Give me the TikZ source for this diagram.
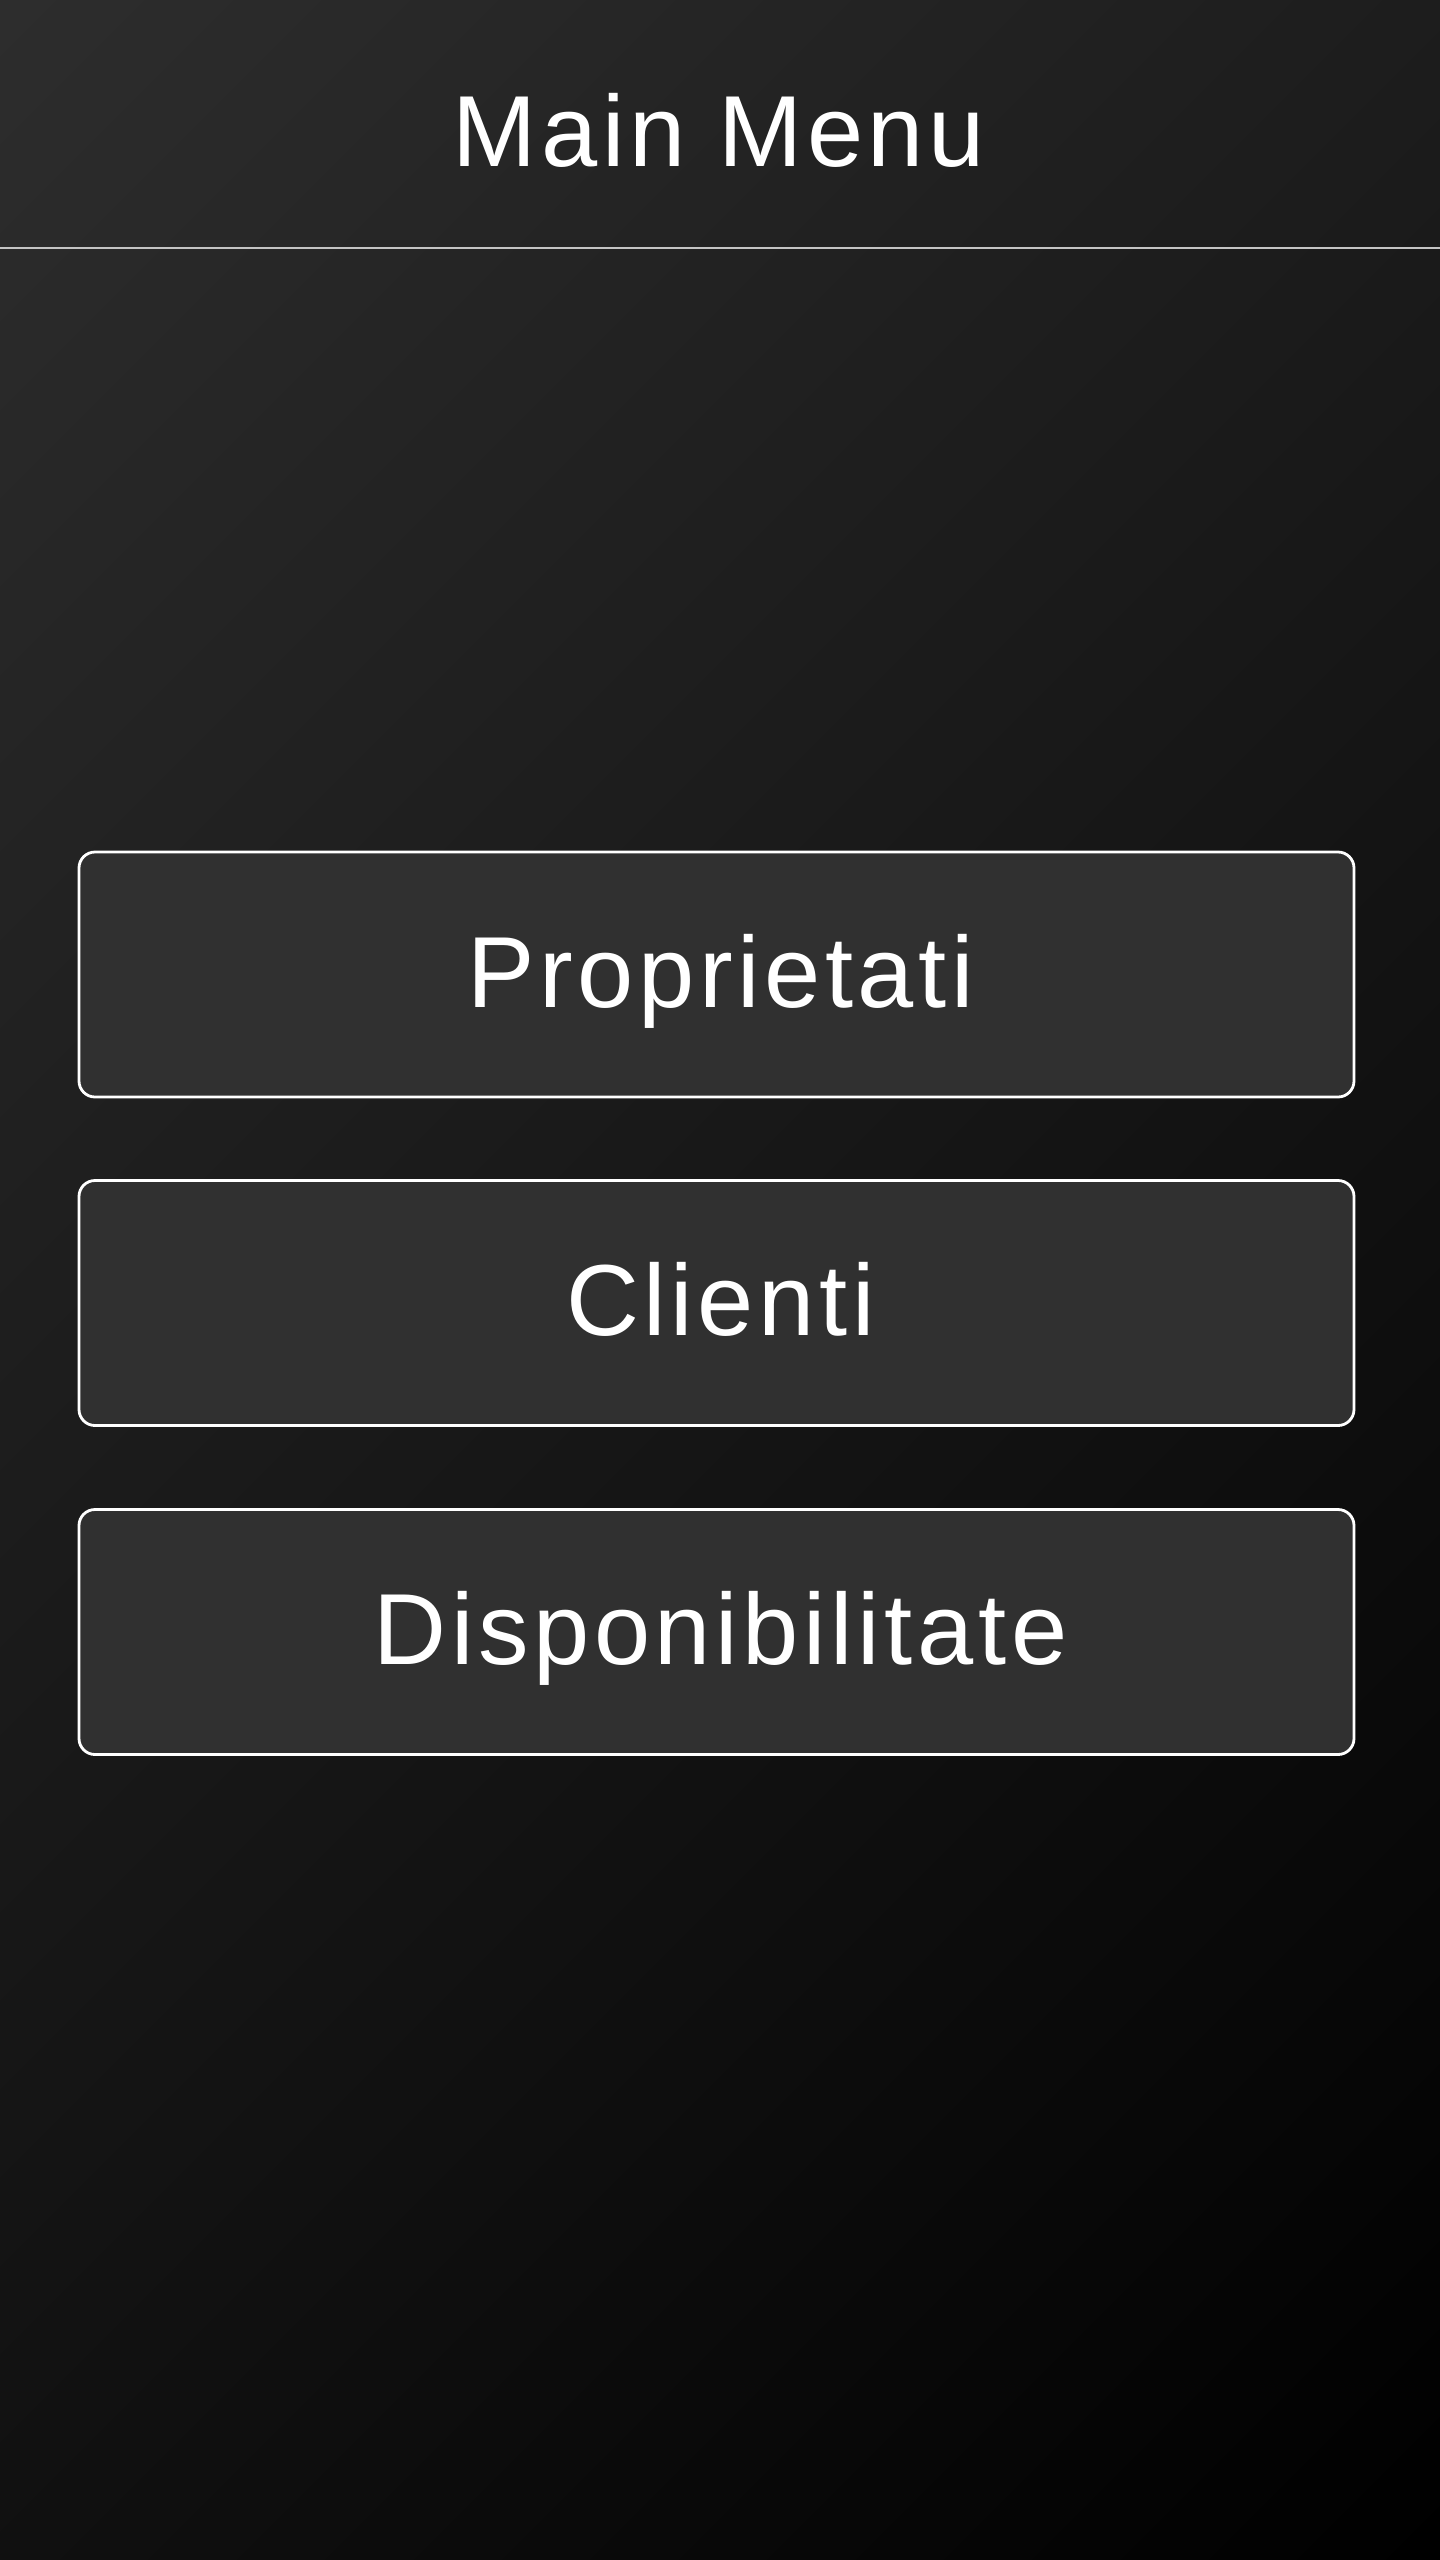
\documentclass[tikz,border=0pt]{standalone}
\usepackage{fontspec}
\setmainfont{Liberation Sans}
\newfontfamily\uifont[LetterSpace=4.6]{Liberation Sans}
\definecolor{bgA}{HTML}{2D2D2D}
\definecolor{bgB}{HTML}{000000}
\definecolor{btnfill}{HTML}{303030}
\definecolor{rulecol}{HTML}{C4C4C4}
\pgfdeclarehorizontalshading{bgshade}{100bp}{color(0bp)=(bgA); color(14.64bp)=(bgA); color(85.36bp)=(bgB); color(100bp)=(bgB)}
\begin{document}
\begin{tikzpicture}[x=0.5pt,y=0.5pt,
  menutext/.style={text=white,font=\uifont\fontsize{50.5pt}{60pt}\selectfont,inner sep=0pt},
  btn/.style={draw=white,line width=1.4pt,fill=btnfill,rounded corners=8pt,
    minimum width=637.5pt,minimum height=122.5pt,inner sep=0pt},
  hdrline/.style={draw=rulecol,line width=1pt}]
\path[use as bounding box] (0,0) rectangle (1440,-2560);
\shade[shading=bgshade,shading angle=-45] (0,0) rectangle (1440,-2560);
\node[menutext,anchor=base] (title) at (719,-166) {Main Menu};
\coordinate (hl) at (0,-248);
\coordinate (hr) at (1440,-248);
\draw[hdrline] (hl) -- (hr);
\node[btn] (b1) at (716.5,-974.5) {};
\node[btn] (b2) at (716.5,-1303) {};
\node[btn] (b3) at (716.5,-1632) {};
\node[menutext,anchor=base] (t1) at ([xshift=2pt,yshift=-16.25pt]b1.center) {Proprietati};
\node[menutext,anchor=base] (t2) at ([xshift=2pt,yshift=-16.25pt]b2.center) {Clienti};
\node[menutext,anchor=base] (t3) at ([xshift=2pt,yshift=-16.25pt]b3.center) {Disponibilitate};
\end{tikzpicture}
\end{document}
